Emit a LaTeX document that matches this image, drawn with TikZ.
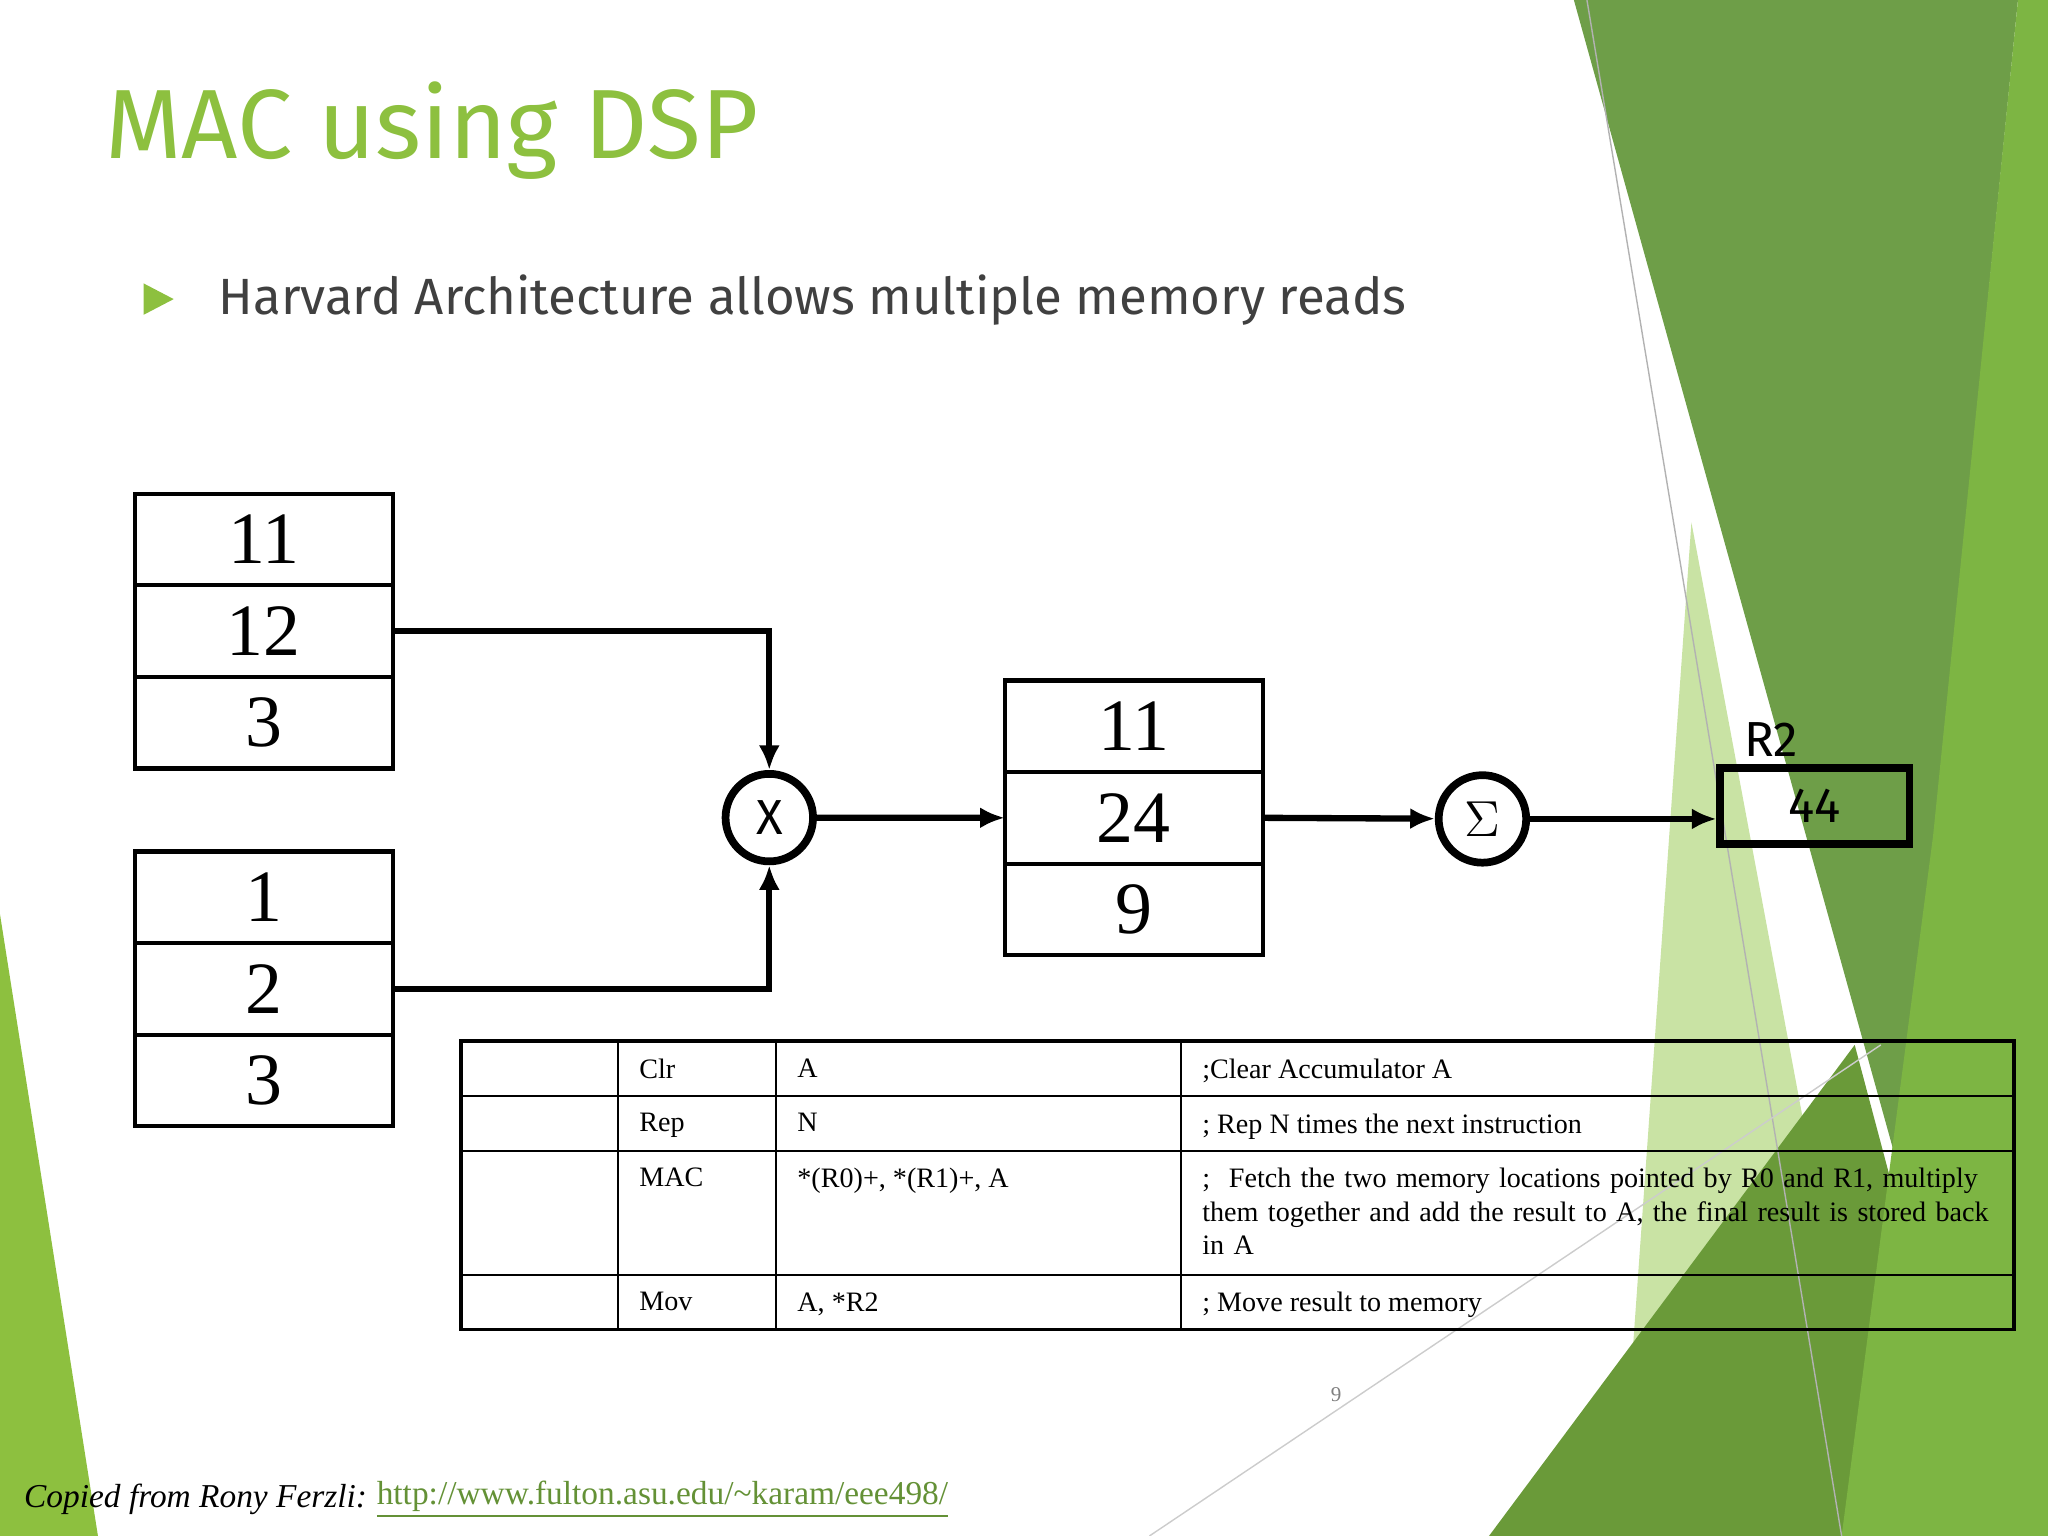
\documentclass[tikz,border=0pt]{standalone}
\usepackage{fontspec}
\setmainfont{Liberation Serif}
\newfontfamily\slidesans{Fira Sans}
\usetikzlibrary{arrows.meta,positioning}
\definecolor{titlegreen}{HTML}{8DC03F}
\definecolor{darkgreen}{HTML}{6E9E48}
\definecolor{midgreen}{HTML}{7DB543}
\definecolor{palegreen}{HTML}{C9E3A4}
\definecolor{bodygrey}{HTML}{404040}
\tikzset{
  cell/.style={draw, line width=0.6pt, minimum width=2.56cm, minimum height=0.895cm, inner sep=0, font=\fontsize{21}{21}\selectfont},
  frame/.style={line width=1.2pt},
  op/.style={circle, draw, line width=2.2pt, minimum size=0.875cm, inner sep=0, font=\slidesans\fontsize{14}{14}\selectfont},
  flow/.style={line width=1.8pt, -{Latex[length=7pt,width=6pt]}},
  tcell/.style={anchor=north west, inner sep=0, font=\fontsize{8}{9.5}\selectfont},
}
\begin{document}
\begin{tikzpicture}[x=0.013061cm, y=-0.013061cm]
\useasboundingbox (0,0) rectangle (1568,1176);
% background decoration
\fill[palegreen] (1295,400) -- (1440,1176) -- (1240,1176) -- cycle;
\fill[darkgreen] (1205,0) -- (1545,0) -- (1455,900) -- cycle;
\fill[midgreen!85!black] (1140,1176) -- (1420,800) -- (1520,1176) -- cycle;
\fill[midgreen] (1545,0) -- (1568,0) -- (1568,1176) -- (1410,1176) -- (1480,640) -- cycle;
\fill[titlegreen] (0,700) -- (75,1176) -- (0,1176) -- cycle;
\draw[gray!60, line width=0.4pt] (1215,0) -- (1410,1176);
\draw[gray!40, line width=0.4pt] (880,1176) -- (1440,800);
% title and bullet
\node[anchor=west, inner sep=0, text=titlegreen, font=\slidesans\fontsize{28}{28}\selectfont] (title) at (80,100) {MAC using DSP};
\fill[titlegreen] (110,217) -- (133,229) -- (110,241) -- cycle;
\node[anchor=west, inner sep=0, text=bodygrey, font=\slidesans\fontsize{14.5}{14.5}\selectfont] (bullet) at (167,230) {Harvard Architecture allows multiple memory reads};
% memory blocks
\node[cell] (a1) at (202,413) {11};
\node[cell, below=0pt of a1] (a2) {12};
\node[cell, below=0pt of a2] (a3) {3};
\node[cell] (b1) at (202,687) {1};
\node[cell, below=0pt of b1] (b2) {2};
\node[cell, below=0pt of b2] (b3) {3};
\node[cell] (c1) at (868,556) {11};
\node[cell, below=0pt of c1] (c2) {24};
\node[cell, below=0pt of c2] (c3) {9};
\draw[frame] (a1.north west) rectangle (a3.south east);
\draw[frame] (b1.north west) rectangle (b3.south east);
\draw[frame] (c1.north west) rectangle (c3.south east);
\node[op] (mul) at (589,626) {X};
\node[op] (acc) at (1135,627) {$\Sigma$};
\node[draw, line width=2.2pt, minimum width=1.89cm, minimum height=0.76cm, inner sep=0, font=\slidesans\fontsize{14}{14}\selectfont] (r2) at (1389.5,617) {44};
\node[font=\slidesans\fontsize{14}{14}\selectfont, inner sep=0] (r2lab) at (1356,566) {R2};
% connectors
\draw[flow] (a2.east) -| (mul.north);
\draw[flow] (b2.east) -| (mul.south);
\draw[flow] (mul) -- (c2.west);
\draw[flow] (c2.east) -- (acc);
\draw[flow] (acc) -- (r2.west |- acc);
% table
\draw[line width=1pt] (353,797) rectangle (1542,1018);
\foreach \yy in {839,881,976} \draw[line width=0.6pt] (353,\yy) -- (1542,\yy);
\foreach \xx in {473,594,904} \draw[line width=0.6pt] (\xx,797) -- (\xx,1018);
\node[tcell] (t11) at (489,810) {Clr};
\node[tcell] (t12) at (610,810) {A};
\node[tcell] (t13) at (920,810) {;Clear Accumulator A};
\node[tcell] (t21) at (489,852) {Rep};
\node[tcell] (t22) at (610,852) {N};
\node[tcell] (t23) at (920,852) {; Rep N times the next instruction};
\node[tcell] (t31) at (489,894) {MAC};
\node[tcell] (t32) at (610,894) {*(R0)+, *(R1)+, A};
\node[tcell, text width=224pt, align=left] (t33) at (920,894) {\hyphenpenalty=10000 ;\ \ Fetch the two memory locations pointed by R0 and R1, multiply them together and add the result to A, the final result is stored back in A};
\node[tcell] (t41) at (489,989) {Mov};
\node[tcell] (t42) at (610,989) {A, *R2};
\node[tcell] (t43) at (920,989) {; Move result to memory};
% page number and footer
\node[text=gray, font=\fontsize{6}{6}\selectfont] (pg) at (1023,1068) {9};
\node[anchor=west, inner sep=0, font=\itshape\fontsize{9.5}{9.5}\selectfont] (src) at (18,1148) {Copied from Rony Ferzli:};
\node[anchor=west, inner sep=0, text=midgreen!80!black, font=\fontsize{9.5}{9.5}\selectfont] (url) at (src.east) {\ \underline{http://www.fulton.asu.edu/\textasciitilde karam/eee498/}};
\end{tikzpicture}
\end{document}
